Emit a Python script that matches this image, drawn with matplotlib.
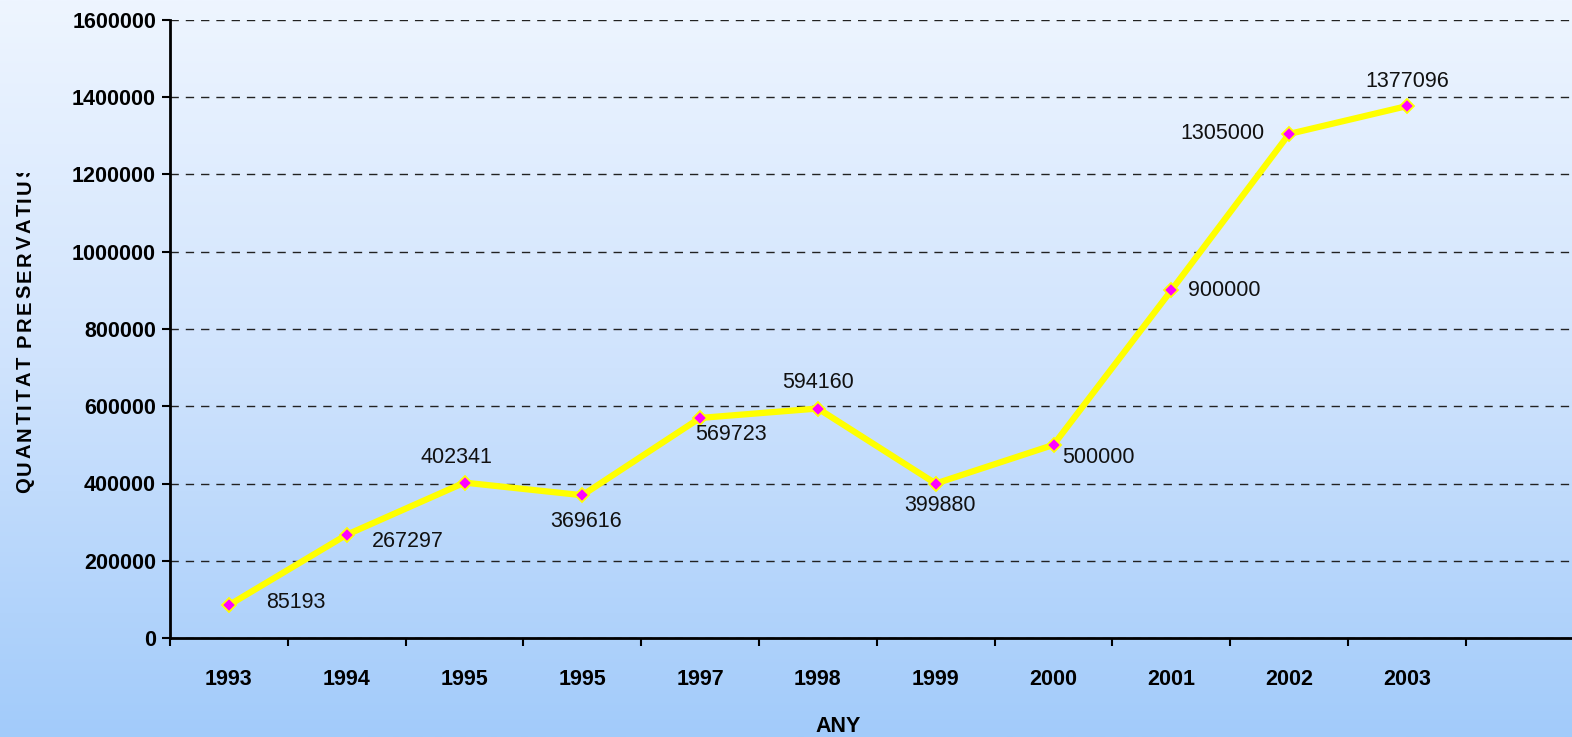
import numpy as np
import matplotlib
matplotlib.use("Agg")
import matplotlib.pyplot as plt
from matplotlib.colors import LinearSegmentedColormap
from matplotlib.font_manager import FontProperties
from matplotlib.transforms import Bbox, TransformedBbox

plt.rcParams['font.family'] = ['Liberation Sans', 'DejaVu Sans']

years = ["1993", "1994", "1995", "1995", "1997", "1998", "1999", "2000", "2001", "2002", "2003"]
values = [85193, 267297, 402341, 369616, 569723, 594160, 399880, 500000, 900000, 1305000, 1377096]
y_ticks = [0, 200000, 400000, 600000, 800000, 1000000, 1200000, 1400000, 1600000]

# label offsets in points (dx, dy) relative to each point
label_offsets = [(48, 2), (44, -5), (-6, 18), (3, -19), (22, -12), (0, 19),
                 (3, -16), (32, -9), (38, 0), (-48, 0), (0, 18)]

W, H = 1572, 737
fig = plt.figure(figsize=(W / 100, H / 100), dpi=100)

# gradient background
bg = fig.add_axes([0, 0, 1, 1], zorder=-10)
cmap = LinearSegmentedColormap.from_list("bg", ["#eef5ff", "#cfe3fd", "#a2cbfa"])
grad = np.linspace(0, 1, 256).reshape(-1, 1)
bg.imshow(grad, aspect="auto", cmap=cmap, extent=[0, 1, 0, 1])
bg.set_axis_off()

ax = fig.add_axes([170 / W, 1 - 638 / H, 1 - 170 / W, (638 - 20) / H])
ax.set_facecolor("none")

x = np.arange(len(years))
ax.plot(x, values, color="#ffff00", lw=4.5, marker="D", ms=7,
        mfc="#ff00ff", mec="#ffff00", mew=1.3, zorder=3, clip_on=False)

for xi, v, (dx, dy) in zip(x, values, label_offsets):
    ax.annotate(str(v), (xi, v), xytext=(dx, dy), textcoords="offset points",
                ha="center", va="center", fontsize=15.5, color="#111111")

ax.set_ylim(0, 1600000)
ax.set_xlim(-0.5, (1572 - 170) / 117.8 - 0.5)
ax.set_yticks(y_ticks)
ax.set_yticklabels([str(t) for t in y_ticks], fontsize=15.5, fontweight="bold")
ax.set_xticks(np.arange(len(years) + 1) - 0.5)
ax.set_xticklabels([])
ax.set_xticks(x, minor=True)
ax.set_xticklabels(years, minor=True, fontsize=15.5, fontweight="bold")
ax.tick_params(axis="x", which="minor", length=0, pad=22)
ax.tick_params(axis="x", which="major", length=6, width=1.5, direction="out")
ax.tick_params(axis="y", length=6, width=1.5, direction="out", pad=4)

ax.grid(axis="y", color="#222222", ls=(0, (6, 5)), lw=1.0)
ax.set_axisbelow(True)
for s in ["top", "right"]:
    ax.spines[s].set_visible(False)
for s in ["left", "bottom"]:
    ax.spines[s].set_linewidth(2)
    ax.spines[s].set_zorder(4)

fig.text(838 / W, 1 - 727 / H, "ANY", ha="center", va="center",
         fontsize=15.5, fontweight="bold")

# y label with extra letter spacing, clipped at the top like the original
ylabel = "QUANTITAT PRESERVATIUS"
fp = FontProperties(family="Liberation Sans", weight="bold", size=14.5)
renderer = fig.canvas.get_renderer()


def char_width(ch):
    if ch == " ":
        return (renderer.get_text_width_height_descent("I I", fp, ismath=False)[0]
                - renderer.get_text_width_height_descent("II", fp, ismath=False)[0])
    return renderer.get_text_width_height_descent(ch, fp, ismath=False)[0]


spacing = 2.4
clip = TransformedBbox(Bbox([[0, 0], [1, 1 - 173 / H]]), fig.transFigure)
ypx = 493
for ch in ylabel:
    if ch != " ":
        t = fig.text(25 / W, 1 - ypx / H, ch, rotation=90, ha="left", va="center",
                     fontproperties=fp, rotation_mode="anchor")
        t.set_clip_on(True)
        t.set_clip_box(clip)
    ypx -= char_width(ch) + spacing

fig.savefig("out.png", dpi=100)
